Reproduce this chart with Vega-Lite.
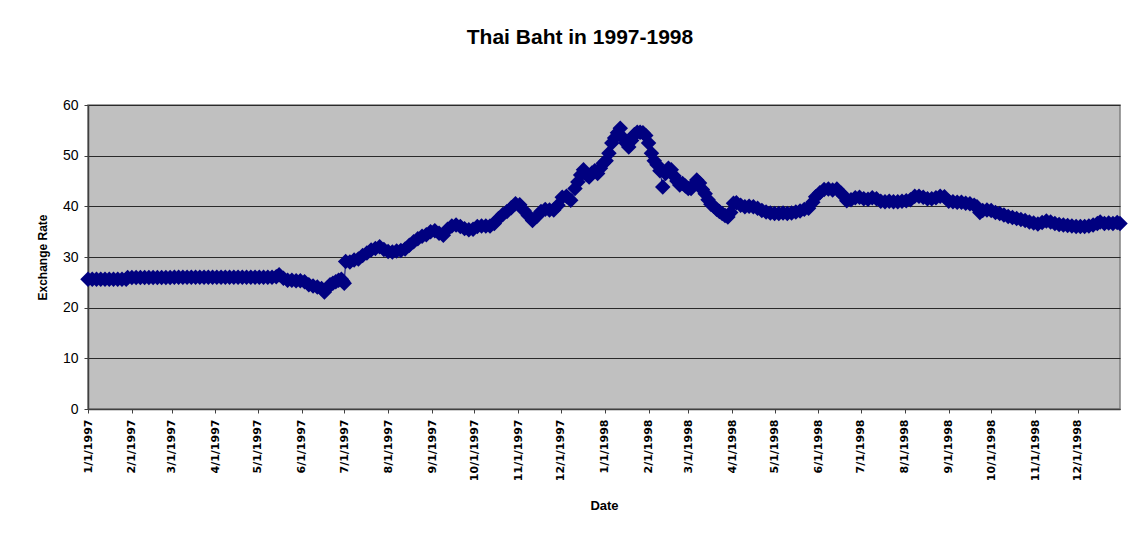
{
"$schema": "https://vega.github.io/schema/vega-lite/v6.json",
"autosize": "none",
"width": 1032,
"height": 304,
"padding": {"left": 88, "top": 105, "right": 14, "bottom": 128},
"background": "white",
"title": {"text": "Thai Baht in 1997-1998", "font": "Liberation Sans", "fontSize": 21, "fontWeight": "bold", "color": "black", "anchor": "middle", "dx": -24, "offset": 50},
"data": {
"format": {"parse": {"d": "date:'%Y-%m-%d'"}},
"values": [
{"d":"1997-01-01","v":25.6},{"d":"1997-01-04","v":25.6},{"d":"1997-01-07","v":25.6},{"d":"1997-01-10","v":25.6},{"d":"1997-01-13","v":25.6},{"d":"1997-01-16","v":25.6},{"d":"1997-01-19","v":25.6},{"d":"1997-01-22","v":25.6},{"d":"1997-01-25","v":25.6},{"d":"1997-01-28","v":25.6},{"d":"1997-01-29","v":25.95},
{"d":"1997-02-01","v":25.95},{"d":"1997-02-04","v":25.95},{"d":"1997-02-07","v":25.95},{"d":"1997-02-10","v":25.95},{"d":"1997-02-13","v":25.95},{"d":"1997-02-16","v":25.95},{"d":"1997-02-19","v":25.95},{"d":"1997-02-22","v":25.95},{"d":"1997-02-25","v":25.95},{"d":"1997-02-28","v":25.95},
{"d":"1997-03-03","v":26.0},{"d":"1997-03-06","v":26.0},{"d":"1997-03-09","v":26.0},{"d":"1997-03-12","v":26.0},{"d":"1997-03-15","v":26.0},{"d":"1997-03-18","v":26.0},{"d":"1997-03-21","v":26.0},{"d":"1997-03-24","v":26.0},{"d":"1997-03-27","v":26.0},{"d":"1997-03-30","v":26.0},
{"d":"1997-04-02","v":26.0},{"d":"1997-04-05","v":26.0},{"d":"1997-04-08","v":26.0},{"d":"1997-04-11","v":26.0},{"d":"1997-04-14","v":26.0},{"d":"1997-04-17","v":26.0},{"d":"1997-04-20","v":26.0},{"d":"1997-04-23","v":26.0},{"d":"1997-04-26","v":26.0},{"d":"1997-04-29","v":26.0},
{"d":"1997-05-02","v":26.0},{"d":"1997-05-05","v":26.0},{"d":"1997-05-08","v":26.0},{"d":"1997-05-11","v":26.0},{"d":"1997-05-14","v":26.1},{"d":"1997-05-16","v":26.5},{"d":"1997-05-19","v":25.8},{"d":"1997-05-22","v":25.4},{"d":"1997-05-25","v":25.4},{"d":"1997-05-28","v":25.3},{"d":"1997-05-31","v":25.3},
{"d":"1997-06-03","v":25.1},{"d":"1997-06-06","v":24.5},{"d":"1997-06-09","v":24.3},{"d":"1997-06-12","v":24.1},{"d":"1997-06-15","v":23.8},{"d":"1997-06-17","v":23.1},{"d":"1997-06-19","v":23.9},{"d":"1997-06-21","v":24.5},{"d":"1997-06-23","v":24.8},{"d":"1997-06-25","v":25.1},{"d":"1997-06-27","v":25.4},{"d":"1997-06-29","v":25.6},{"d":"1997-06-30","v":25.2},{"d":"1997-07-01","v":24.8},
{"d":"1997-07-02","v":29.1},{"d":"1997-07-05","v":29.0},{"d":"1997-07-08","v":29.4},{"d":"1997-07-11","v":29.6},{"d":"1997-07-14","v":30.3},{"d":"1997-07-17","v":30.8},{"d":"1997-07-20","v":31.4},{"d":"1997-07-23","v":31.7},{"d":"1997-07-26","v":32.0},{"d":"1997-07-29","v":31.5},
{"d":"1997-08-01","v":31.1},{"d":"1997-08-04","v":31.0},{"d":"1997-08-07","v":31.2},{"d":"1997-08-10","v":31.3},{"d":"1997-08-13","v":31.6},{"d":"1997-08-16","v":32.3},{"d":"1997-08-19","v":33.0},{"d":"1997-08-22","v":33.6},{"d":"1997-08-25","v":34.1},{"d":"1997-08-28","v":34.4},{"d":"1997-08-31","v":35.0},
{"d":"1997-09-03","v":35.2},{"d":"1997-09-06","v":34.7},{"d":"1997-09-09","v":34.3},{"d":"1997-09-12","v":35.5},{"d":"1997-09-15","v":36.1},{"d":"1997-09-18","v":36.3},{"d":"1997-09-21","v":36.0},{"d":"1997-09-24","v":35.6},{"d":"1997-09-27","v":35.4},{"d":"1997-09-30","v":35.5},
{"d":"1997-10-03","v":36.0},{"d":"1997-10-06","v":36.1},{"d":"1997-10-09","v":36.1},{"d":"1997-10-12","v":36.1},{"d":"1997-10-15","v":36.6},{"d":"1997-10-18","v":37.6},{"d":"1997-10-21","v":38.4},{"d":"1997-10-24","v":39.0},{"d":"1997-10-27","v":39.7},{"d":"1997-10-30","v":40.5},
{"d":"1997-11-02","v":40.3},{"d":"1997-11-05","v":39.2},{"d":"1997-11-08","v":38.2},{"d":"1997-11-11","v":37.2},{"d":"1997-11-14","v":38.0},{"d":"1997-11-17","v":39.0},{"d":"1997-11-20","v":39.4},{"d":"1997-11-23","v":39.3},{"d":"1997-11-26","v":39.3},{"d":"1997-11-29","v":40.2},
{"d":"1997-12-02","v":41.8},{"d":"1997-12-05","v":42.0},{"d":"1997-12-08","v":41.2},{"d":"1997-12-11","v":43.5},{"d":"1997-12-13","v":44.8},{"d":"1997-12-15","v":46.2},{"d":"1997-12-17","v":47.2},{"d":"1997-12-19","v":46.3},{"d":"1997-12-21","v":45.8},{"d":"1997-12-23","v":46.6},{"d":"1997-12-25","v":47.0},{"d":"1997-12-27","v":46.5},{"d":"1997-12-29","v":47.5},{"d":"1997-12-31","v":48.5},
{"d":"1998-01-02","v":49.0},{"d":"1998-01-04","v":50.5},{"d":"1998-01-06","v":52.5},{"d":"1998-01-08","v":53.5},{"d":"1998-01-10","v":54.5},{"d":"1998-01-12","v":55.4},{"d":"1998-01-14","v":53.5},{"d":"1998-01-16","v":52.5},{"d":"1998-01-18","v":51.7},{"d":"1998-01-20","v":53.0},{"d":"1998-01-22","v":54.2},{"d":"1998-01-24","v":54.6},{"d":"1998-01-26","v":54.6},{"d":"1998-01-28","v":54.5},{"d":"1998-01-30","v":54.0},
{"d":"1998-02-01","v":52.5},{"d":"1998-02-03","v":50.5},{"d":"1998-02-05","v":49.0},{"d":"1998-02-07","v":48.2},{"d":"1998-02-09","v":47.0},{"d":"1998-02-11","v":43.8},{"d":"1998-02-13","v":46.5},{"d":"1998-02-15","v":47.5},{"d":"1998-02-17","v":47.2},{"d":"1998-02-19","v":46.0},{"d":"1998-02-21","v":45.0},{"d":"1998-02-23","v":44.2},{"d":"1998-02-25","v":44.5},{"d":"1998-02-27","v":44.0},
{"d":"1998-03-01","v":43.5},{"d":"1998-03-03","v":43.5},{"d":"1998-03-05","v":44.3},{"d":"1998-03-07","v":45.2},{"d":"1998-03-09","v":44.6},{"d":"1998-03-11","v":43.3},{"d":"1998-03-13","v":42.5},{"d":"1998-03-15","v":41.3},{"d":"1998-03-17","v":40.4},{"d":"1998-03-19","v":40.0},{"d":"1998-03-21","v":39.4},{"d":"1998-03-23","v":39.0},{"d":"1998-03-25","v":38.6},{"d":"1998-03-27","v":38.2},{"d":"1998-03-29","v":37.9},{"d":"1998-03-31","v":38.8},
{"d":"1998-04-02","v":40.6},{"d":"1998-04-04","v":40.7},{"d":"1998-04-07","v":40.2},{"d":"1998-04-10","v":39.9},{"d":"1998-04-13","v":40.0},{"d":"1998-04-16","v":39.9},{"d":"1998-04-19","v":39.6},{"d":"1998-04-22","v":39.2},{"d":"1998-04-25","v":38.9},{"d":"1998-04-28","v":38.7},
{"d":"1998-05-01","v":38.6},{"d":"1998-05-04","v":38.6},{"d":"1998-05-07","v":38.7},{"d":"1998-05-10","v":38.6},{"d":"1998-05-13","v":38.7},{"d":"1998-05-16","v":38.9},{"d":"1998-05-19","v":39.1},{"d":"1998-05-22","v":39.4},{"d":"1998-05-25","v":39.6},{"d":"1998-05-28","v":40.8},{"d":"1998-05-30","v":41.9},
{"d":"1998-06-02","v":42.7},{"d":"1998-06-05","v":43.3},{"d":"1998-06-08","v":43.4},{"d":"1998-06-11","v":43.2},{"d":"1998-06-14","v":43.4},{"d":"1998-06-17","v":42.6},{"d":"1998-06-19","v":42.0},{"d":"1998-06-21","v":41.1},{"d":"1998-06-24","v":41.3},{"d":"1998-06-27","v":41.7},{"d":"1998-06-30","v":41.8},
{"d":"1998-07-03","v":41.5},{"d":"1998-07-06","v":41.4},{"d":"1998-07-09","v":41.7},{"d":"1998-07-12","v":41.5},{"d":"1998-07-15","v":41.0},{"d":"1998-07-18","v":40.9},{"d":"1998-07-21","v":41.0},{"d":"1998-07-24","v":40.9},{"d":"1998-07-27","v":40.9},{"d":"1998-07-30","v":41.0},
{"d":"1998-08-02","v":41.1},{"d":"1998-08-05","v":41.3},{"d":"1998-08-08","v":42.0},{"d":"1998-08-11","v":42.0},{"d":"1998-08-14","v":41.8},{"d":"1998-08-17","v":41.5},{"d":"1998-08-20","v":41.5},{"d":"1998-08-23","v":41.7},{"d":"1998-08-26","v":42.0},{"d":"1998-08-29","v":41.9},
{"d":"1998-09-01","v":41.0},{"d":"1998-09-04","v":40.9},{"d":"1998-09-07","v":40.8},{"d":"1998-09-10","v":40.8},{"d":"1998-09-13","v":40.6},{"d":"1998-09-16","v":40.5},{"d":"1998-09-19","v":40.2},{"d":"1998-09-21","v":39.9},{"d":"1998-09-23","v":38.8},{"d":"1998-09-25","v":39.2},{"d":"1998-09-28","v":39.3},
{"d":"1998-10-01","v":39.2},{"d":"1998-10-04","v":38.8},{"d":"1998-10-07","v":38.6},{"d":"1998-10-10","v":38.3},{"d":"1998-10-13","v":38.0},{"d":"1998-10-16","v":37.8},{"d":"1998-10-19","v":37.6},{"d":"1998-10-22","v":37.4},{"d":"1998-10-25","v":37.2},{"d":"1998-10-28","v":36.9},{"d":"1998-10-31","v":36.7},
{"d":"1998-11-03","v":36.5},{"d":"1998-11-06","v":36.8},{"d":"1998-11-09","v":37.1},{"d":"1998-11-12","v":36.9},{"d":"1998-11-15","v":36.6},{"d":"1998-11-18","v":36.4},{"d":"1998-11-21","v":36.3},{"d":"1998-11-24","v":36.2},{"d":"1998-11-27","v":36.1},{"d":"1998-11-30","v":36.0},
{"d":"1998-12-03","v":36.0},{"d":"1998-12-06","v":36.0},{"d":"1998-12-09","v":36.1},{"d":"1998-12-12","v":36.3},{"d":"1998-12-15","v":36.6},{"d":"1998-12-17","v":36.9},{"d":"1998-12-20","v":36.6},{"d":"1998-12-23","v":36.7},{"d":"1998-12-26","v":36.6},{"d":"1998-12-29","v":36.8},{"d":"1998-12-31","v":36.6}
]
},
"encoding": {
"x": {"field": "d", "type": "temporal", "title": "Date",
  "scale": {"domain": [{"year": 1997, "month": 1, "date": 1}, {"year": 1998, "month": 12, "date": 31}], "nice": false},
  "axis": {"format": "%-m/%-d/%Y", "tickCount": {"interval": "month", "step": 1}, "labelAngle": -90, "labelFont": "DejaVu Sans", "labelFontWeight": "bold", "labelFontSize": 11, "labelColor": "black", "labelPadding": 6, "tickSize": 4, "tickColor": "#404040", "domainColor": "#404040", "domainWidth": 1.5, "grid": false, "labelOverlap": false, "labelFlush": false, "titleFont": "Liberation Sans", "titleFontSize": 13, "titleFontWeight": "bold", "titleColor": "black", "titlePadding": 19}},
"y": {"field": "v", "type": "quantitative", "title": "Exchange Rate",
  "scale": {"domain": [0, 60], "nice": false},
  "axis": {"values": [0, 10, 20, 30, 40, 50, 60], "labelFont": "Liberation Sans", "labelFontSize": 14, "labelColor": "black", "labelPadding": 6, "tickSize": 4, "tickColor": "#404040", "domainColor": "#404040", "domainWidth": 1.5, "grid": true, "gridColor": "#2a2a2a", "gridWidth": 1.2, "titleFont": "Liberation Sans", "titleFontSize": 12, "titleFontWeight": "bold", "titleColor": "black", "titlePadding": 13}}
},
"layer": [
{"mark": {"type": "line", "color": "#000080", "strokeWidth": 1}},
{"mark": {"type": "point", "shape": "diamond", "filled": true, "size": 240, "color": "#000080", "opacity": 1}}
],
"config": {
"view": {"fill": "#C0C0C0", "stroke": "#808080", "strokeWidth": 1.5}
}
}
